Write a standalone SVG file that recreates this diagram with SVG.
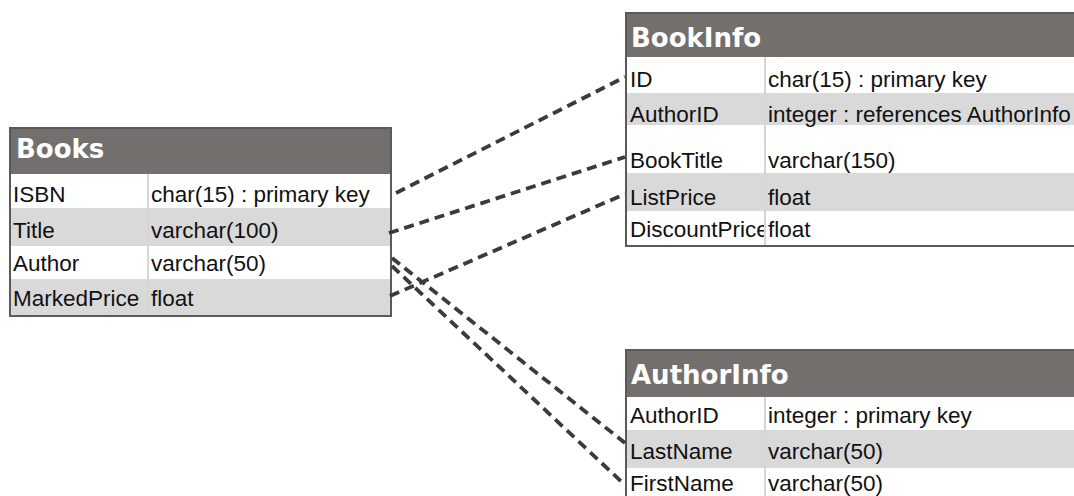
<svg xmlns="http://www.w3.org/2000/svg" width="1074" height="496" viewBox="0 0 1074 496">
  <style>
    .head { fill: #736f6d; }
    .row-alt { fill: #d9d9d9; }
    .row { fill: #ffffff; }
    .frame { fill: none; stroke: #5a5a5a; stroke-width: 2; }
    .divider { stroke: #d6d6d6; stroke-width: 2; }
    .title { font-family: "DejaVu Sans", sans-serif; font-weight: bold; font-size: 26px; fill: #ffffff; }
    .cell { font-family: "Liberation Sans", Arial, sans-serif; font-size: 22.5px; fill: #111111; }
    .link { fill: none; stroke: #3b3b3b; stroke-width: 3.8; stroke-dasharray: 10 6; }
  </style>
  <defs>
    <clipPath id="bookinfo-name-col">
      <rect x="626" y="57" width="138" height="190"/>
    </clipPath>
  </defs>

  <!-- Books table -->
  <g id="books">
    <rect x="10" y="128" width="381" height="188" class="row"/>
    <rect x="10" y="128" width="381" height="46" class="head"/>
    <rect x="10" y="208" width="381" height="38" class="row-alt"/>
    <rect x="10" y="279" width="381" height="37" class="row-alt"/>
    <line x1="148" y1="174" x2="148" y2="316" class="divider"/>
    <rect x="10" y="128" width="381" height="188" class="frame"/>
    <text x="16" y="157.5" class="title">Books</text>
    <text x="13" y="202" class="cell">ISBN</text>
    <text x="151" y="202" class="cell">char(15) : primary key</text>
    <text x="13" y="238" class="cell">Title</text>
    <text x="151" y="238" class="cell">varchar(100)</text>
    <text x="13" y="271" class="cell">Author</text>
    <text x="151" y="271" class="cell">varchar(50)</text>
    <text x="13" y="306" class="cell">MarkedPrice</text>
    <text x="151" y="306" class="cell">float</text>
  </g>

  <!-- BookInfo table -->
  <g id="bookinfo">
    <rect x="626" y="13" width="460" height="233" class="row"/>
    <rect x="626" y="13" width="460" height="44" class="head"/>
    <rect x="626" y="93" width="460" height="32" class="row-alt"/>
    <rect x="626" y="173" width="460" height="38" class="row-alt"/>
    <line x1="765" y1="57" x2="765" y2="246" class="divider"/>
    <rect x="626" y="13" width="460" height="233" class="frame"/>
    <text x="631" y="46.5" class="title">BookInfo</text>
    <text x="630" y="87" class="cell">ID</text>
    <text x="768" y="87" class="cell">char(15) : primary key</text>
    <text x="630" y="122" class="cell">AuthorID</text>
    <text x="768" y="122" class="cell">integer : references AuthorInfo</text>
    <text x="630" y="168" class="cell">BookTitle</text>
    <text x="768" y="168" class="cell">varchar(150)</text>
    <text x="630" y="205" class="cell">ListPrice</text>
    <text x="768" y="205" class="cell">float</text>
    <text x="630" y="237" class="cell" clip-path="url(#bookinfo-name-col)">DiscountPrice</text>
    <text x="768" y="237" class="cell">float</text>
  </g>

  <!-- AuthorInfo table -->
  <g id="authorinfo">
    <rect x="626" y="350" width="460" height="160" class="row"/>
    <rect x="626" y="350" width="460" height="47" class="head"/>
    <rect x="626" y="430" width="460" height="38" class="row-alt"/>
    <line x1="765" y1="397" x2="765" y2="510" class="divider"/>
    <rect x="626" y="350" width="460" height="160" class="frame"/>
    <text x="631" y="383.5" class="title">AuthorInfo</text>
    <text x="630" y="423" class="cell">AuthorID</text>
    <text x="768" y="423" class="cell">integer : primary key</text>
    <text x="630" y="459" class="cell">LastName</text>
    <text x="768" y="459" class="cell">varchar(50)</text>
    <text x="630" y="491" class="cell">FirstName</text>
    <text x="768" y="491" class="cell">varchar(50)</text>
  </g>

  <!-- relationships between columns -->
  <g id="connectors">
    <line x1="396" y1="193" x2="625" y2="77" class="link"/>
    <line x1="389" y1="233" x2="625" y2="157" class="link"/>
    <line x1="390" y1="296" x2="625" y2="194" class="link"/>
    <line x1="392" y1="258" x2="625" y2="443" class="link"/>
    <line x1="392" y1="266" x2="625" y2="485" class="link"/>
  </g>
</svg>
